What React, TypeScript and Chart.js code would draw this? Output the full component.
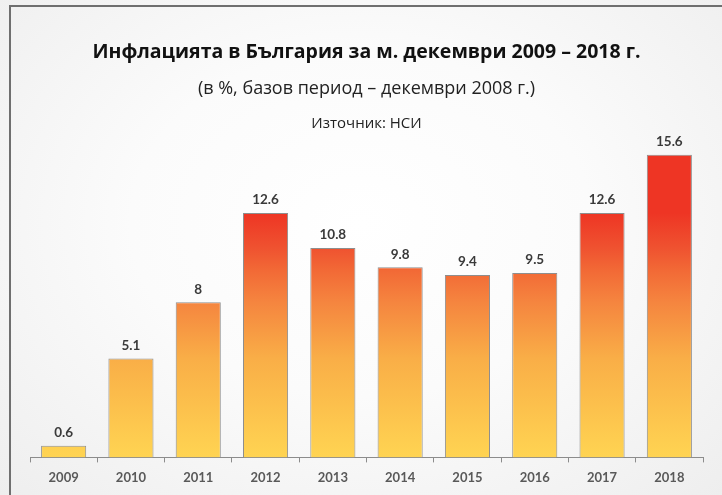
import React, { useEffect, useRef } from "react";
import { Chart, registerables } from "chart.js";

Chart.register(...registerables);

const categories = ["2009", "2010", "2011", "2012", "2013", "2014", "2015", "2016", "2017", "2018"];
const inflation = [0.6, 5.1, 8, 12.6, 10.8, 9.8, 9.4, 9.5, 12.6, 15.6];
const titleText = "Инфлацията в България за м. декември 2009 – 2018 г.";
const subtitleText = "(в %, базов период – декември 2008 г.)";
const sourceText = "Източник: НСИ";
// colour ramp along the value axis (value, colour)
const rampValues = [0, 5.1, 8, 9.6, 10.8, 12.6];
const rampColors = ["#FFD452", "#F9AE47", "#F5853F", "#F26A36", "#EF5230", "#EE3524"];

const headerPlugin = {
  id: "headerText",
  afterDraw(chart: any) {
    const { ctx, chartArea } = chart;
    const cx = (chartArea.left + chartArea.right) / 2;
    ctx.save();
    ctx.textAlign = "center";
    ctx.textBaseline = "middle";
    ctx.fillStyle = "#111111";
    ctx.font = "bold 19.5px 'Open Sans'";
    ctx.fillText(titleText, cx, 52);
    ctx.fillStyle = "#222222";
    ctx.font = "18px 'Open Sans'";
    ctx.fillText(subtitleText, cx, 89);
    ctx.font = "15px 'Open Sans'";
    ctx.fillText(sourceText, cx, 124);
    ctx.restore();
  },
};

const valueLabelPlugin = {
  id: "valueLabels",
  afterDatasetsDraw(chart: any) {
    const { ctx } = chart;
    const meta = chart.getDatasetMeta(0);
    ctx.save();
    ctx.textAlign = "center";
    ctx.textBaseline = "middle";
    ctx.fillStyle = "#3a3a3a";
    ctx.font = "bold 13.5px Lato";
    meta.data.forEach((bar: any, i: number) => {
      ctx.fillText(String(inflation[i]), bar.x, bar.y - 13);
    });
    ctx.restore();
  },
};

export default function App() {
  const canvasRef = useRef<HTMLCanvasElement | null>(null);

  useEffect(() => {
    if (!canvasRef.current) return;
    const maxRamp = rampValues[rampValues.length - 1];
    const chart = new Chart(canvasRef.current, {
      type: "bar",
      data: {
        labels: categories,
        datasets: [
          {
            data: inflation,
            backgroundColor: (c: any) => {
              const ch = c.chart;
              const { chartArea, scales } = ch;
              if (!chartArea || !scales.y) return rampColors[0];
              const y0 = scales.y.getPixelForValue(0);
              const y1 = scales.y.getPixelForValue(maxRamp);
              const g = ch.ctx.createLinearGradient(0, y0, 0, y1);
              rampValues.forEach((v, i) => g.addColorStop(v / maxRamp, rampColors[i]));
              return g;
            },
            borderColor: "#8E8E8E",
            borderWidth: 1,
            categoryPercentage: 1,
            barPercentage: 0.67,
          },
        ],
      },
      options: {
        responsive: false,
        animation: false,
        layout: { padding: { top: 147, left: 30, right: 19, bottom: 1 } },
        plugins: {
          legend: { display: false },
          title: { display: false },
          tooltip: { enabled: false },
        },
        scales: {
          x: {
            grid: {
              display: true,
              drawOnChartArea: false,
              drawTicks: true,
              tickLength: 5,
              color: "#8C8C8C",
              offset: true,
            },
            border: { display: true, color: "#8C8C8C", width: 1 },
            ticks: {
              color: "#595959",
              font: { family: "Lato", weight: "bold", size: 13 },
              padding: 8,
            },
          },
          y: {
            display: false,
            min: 0,
            max: 16,
          },
        },
      },
      plugins: [headerPlugin, valueLabelPlugin],
    } as any);
    return () => chart.destroy();
  }, []);

  return (
    <div
      style={{
        position: "absolute",
        left: 0,
        top: 0,
        width: 722,
        height: 495,
        overflow: "hidden",
        background: "radial-gradient(ellipse at 50% 45%, #ffffff 0%, #fbfbfb 45%, #eeeeee 100%)",
      }}
    >
      <div
        style={{
          position: "absolute",
          left: 9,
          top: 5,
          width: 713,
          height: 490,
          borderTop: "2px solid #6f6f6f",
          borderLeft: "2px solid #6f6f6f",
        }}
      />
      <canvas ref={canvasRef} width={722} height={495} style={{ position: "absolute", left: 0, top: 0 }} />
    </div>
  );
}
